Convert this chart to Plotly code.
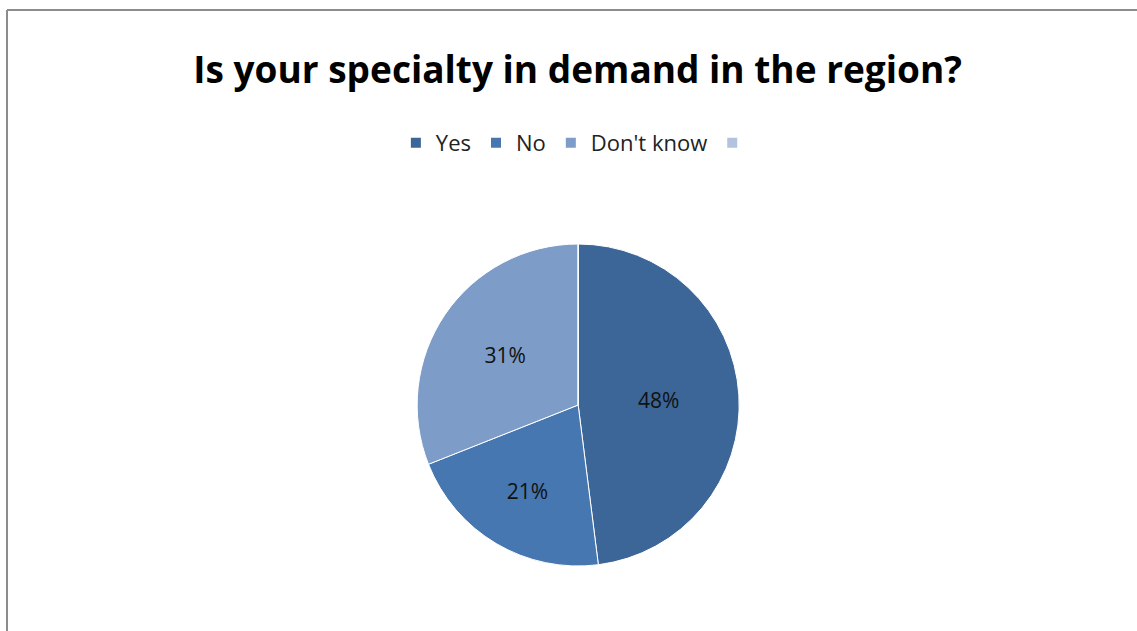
import plotly.graph_objects as go

labels = ["Yes", "No", "Don't know", " "]
values = [48, 21, 31, 0]
colors = ["#3C6697", "#4677B0", "#7E9CC8", "#B3C3DF"]
texts = ["48%", "21%", "31%", ""]

W, H = 1137, 631
FONT = "Open Sans, sans-serif"

fig = go.Figure(go.Pie(
    labels=labels,
    values=values,
    sort=False,
    direction="clockwise",
    rotation=0,
    text=texts,
    textinfo="text",
    textposition="inside",
    insidetextorientation="horizontal",
    textfont=dict(family=FONT, size=21, color="#111111"),
    marker=dict(colors=colors, line=dict(color="white", width=1)),
    domain=dict(x=[0.25, 0.767], y=[(H - 566) / H, (H - 244) / H]),
    showlegend=True,
    hoverinfo="label+percent",
))

fig.update_layout(
    width=W, height=H,
    margin=dict(l=0, r=0, t=0, b=0),
    paper_bgcolor="white",
    title=dict(
        text="<b>Is your specialty in demand in the region?</b>",
        x=0.508, xanchor="center",
        y=1 - 70 / H, yanchor="middle",
        font=dict(family=FONT, size=37, color="#000000"),
    ),
    legend=dict(
        orientation="h",
        x=0.51, xanchor="center",
        y=1 - 143 / H, yanchor="middle",
        font=dict(family=FONT, size=22, color="#222222"),
        itemsizing="constant",
        traceorder="normal",
    ),
    shapes=[
        dict(type="line", xref="paper", yref="paper", x0=7 / W, x1=1.01, y0=1 - 10 / H, y1=1 - 10 / H,
             line=dict(color="#8C8C8C", width=2)),
        dict(type="line", xref="paper", yref="paper", x0=7 / W, x1=7 / W, y0=-0.01, y1=1 - 10 / H,
             line=dict(color="#8C8C8C", width=2)),
    ],
)

fig.write_html("out.html")
